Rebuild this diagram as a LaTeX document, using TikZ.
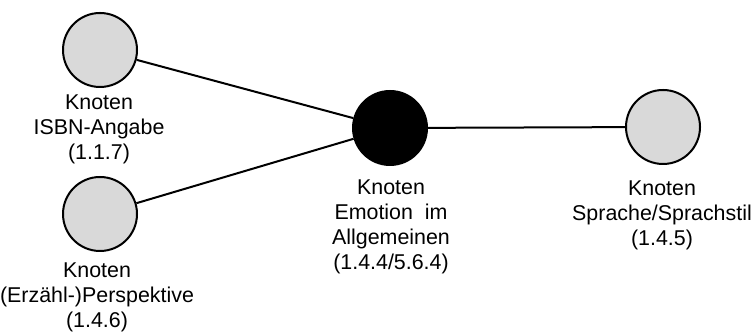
\documentclass[tikz,border=0pt]{standalone}
\usepackage{fontspec}
\setmainfont{Liberation Sans}

\begin{document}
\begin{tikzpicture}[x=0.5pt,y=0.5pt,
  knoten/.style={circle,draw,line width=1pt,fill=gray!30,minimum size=37pt,inner sep=0pt},
  hauptknoten/.style={knoten,fill=black},
  beschr/.style={anchor=north,align=center,inner sep=0pt,font=\fontsize{10.7}{12.6}\selectfont},
  kante/.style={line width=1pt}]
\useasboundingbox (0,0) rectangle (753,335);
% Knoten
\node[knoten] (isbn) at (100,285) {};
\node[knoten] (perspektive) at (100,121) {};
\node[hauptknoten] (emotion) at (390,207) {};
\node[knoten] (sprache) at (663,208) {};
% Beschriftungen
\node[beschr] (isbn-txt) at (99,241) {Knoten\\ISBN-Angabe\\(1.1.7)};
\node[beschr] (perspektive-txt) at (97,73) {Knoten\\(Erzähl-)Perspektive\\(1.4.6)};
\node[beschr] (emotion-txt) at (391,156) {Knoten\\Emotion\ \ im\\Allgemeinen\\(1.4.4/5.6.4)};
\node[beschr] (sprache-txt) at (662,155) {Knoten\\Sprache/Sprachstil\\(1.4.5)};
% Kanten
\foreach \von in {isbn, perspektive, sprache} {
  \draw[kante] (\von) -- (emotion);
}
\end{tikzpicture}
\end{document}
